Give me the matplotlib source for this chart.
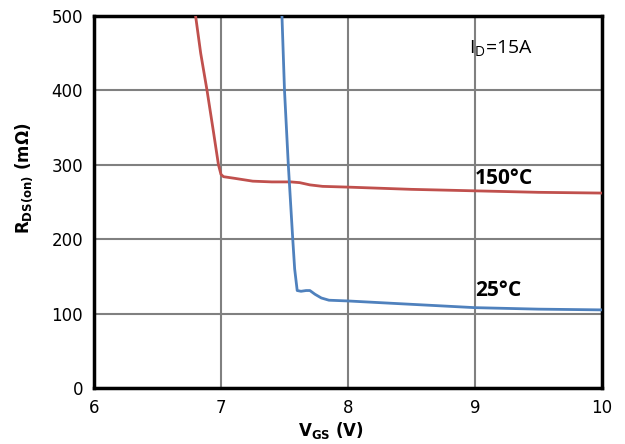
import numpy as np
import matplotlib.pyplot as plt

# R_DS(on) vs V_GS
vgs_150 = [6.80, 6.84, 6.89, 6.94, 6.98, 7.00, 7.02, 7.10, 7.25, 7.40, 7.55, 7.62, 7.70, 7.80, 8.00, 8.50, 9.00, 9.50, 10.0]
rds_150 = [500, 450, 400, 345, 300, 287, 284, 282, 278, 277, 277, 276, 273, 271, 270, 267, 265, 263, 262]

vgs_25 = [7.48, 7.50, 7.53, 7.565, 7.58, 7.60, 7.63, 7.67, 7.70, 7.74, 7.79, 7.85, 8.00, 8.33, 9.00, 9.50, 10.0]
rds_25 = [500, 400, 300, 200, 160, 131, 130, 131, 131, 126, 121, 118, 117, 114, 108, 106, 105]

xticks = [6, 7, 8, 9, 10]
yticks = [0, 100, 200, 300, 400, 500]

fig = plt.figure(figsize=(6.25, 4.44), dpi=100)
ax = fig.add_axes([0.1504, 0.1261, 0.8128, 0.8379])

ax.plot(vgs_150, rds_150, color='#c0504d', lw=2.0, zorder=3)
ax.plot(vgs_25, rds_25, color='#4f81bd', lw=2.0, zorder=3)

ax.set_xlim(6, 10)
ax.set_ylim(0, 500)
ax.set_xticks(xticks)
ax.set_yticks(yticks)
ax.grid(True, color='#808080', lw=1.5)
ax.tick_params(length=0, labelsize=12, pad=8)
for s in ax.spines.values():
    s.set_linewidth(2.5)
    s.set_color('black')

ax.set_xlabel(r'$\mathbf{V_{GS}}$ (V)', fontsize=12, fontweight='bold')
ax.set_ylabel(r'$\mathbf{R_{DS(on)}}$ (m$\mathbf{\Omega}$)', fontsize=12, fontweight='bold')
ax.xaxis.set_label_coords(0.467, -0.087)
ax.yaxis.set_label_coords(-0.117, 0.565)

ax.text(9.0, 282, '150°C', fontsize=15, fontweight='bold', family='Open Sans', va='center', ha='left')
ax.text(9.0, 131, '25°C', fontsize=15, fontweight='bold', family='Open Sans', va='center', ha='left')
ax.text(8.95, 456, r'I$_\mathregular{D}$=15A', fontsize=14, family='Open Sans', va='center', ha='left')

plt.savefig('out.png', dpi=100)
